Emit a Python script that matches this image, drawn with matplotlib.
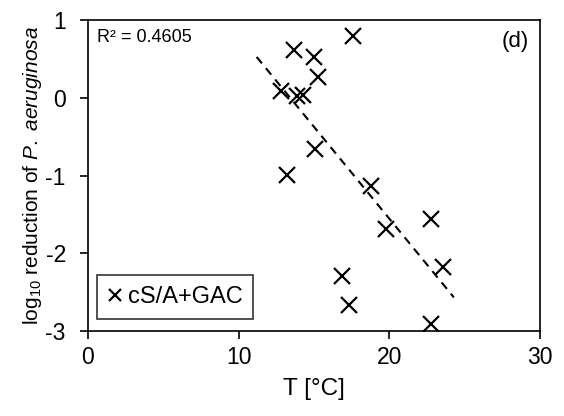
import numpy as np
import matplotlib
matplotlib.use("Agg")
import matplotlib.pyplot as plt

plt.rcParams['font.family'] = ['Liberation Sans', 'DejaVu Sans']
plt.rcParams['mathtext.fontset'] = 'custom'
plt.rcParams['mathtext.rm'] = 'Liberation Sans'
plt.rcParams['mathtext.it'] = 'Liberation Sans:italic'
plt.rcParams['axes.unicode_minus'] = False

temp = [17.6, 13.7, 15.0, 15.3, 12.8, 13.9, 14.3, 15.1, 13.2,
        18.8, 22.8, 19.8, 23.6, 16.9, 17.3, 22.8]
log_red = [0.80, 0.62, 0.53, 0.27, 0.085, 0.02, 0.04, -0.66, -0.99,
           -1.13, -1.56, -1.69, -2.18, -2.29, -2.67, -2.91]
xticks = [0, 10, 20, 30]
yticks = [-3, -2, -1, 0, 1]

fig = plt.figure(figsize=(5.64, 4.16), dpi=100)
ax = fig.add_axes([0.156, 0.204, 0.801, 0.748])

ax.plot(temp, log_red, 'x', color='black', markersize=12, markeredgewidth=1.6,
        linestyle='none', label='cS/A+GAC')

# linear trendline
k, b = np.polyfit(temp, log_red, 1)
xl = np.array([11.2, 24.3])
ax.plot(xl, k * xl + b, '--', color='black', linewidth=1.5, dashes=(4, 3))

ax.set_xlim(0, 30)
ax.set_ylim(-3, 1)
ax.set_xticks(xticks)
ax.set_yticks(yticks)
ax.tick_params(direction='out', length=6, width=1.2, labelsize=16.5,
               colors='black')
ax.tick_params(axis='x', pad=5)
ax.tick_params(axis='y', pad=10)
for s in ax.spines.values():
    s.set_linewidth(1.2)

ax.set_xlabel('T [°C]', fontsize=17.5, labelpad=6)
ax.set_ylabel(r'log$_{10}$ reduction of $\it{P.\ aeruginosa}$', fontsize=15,
              labelpad=1)

ax.text(0.02, 0.97, 'R² = 0.4605', transform=ax.transAxes, fontsize=13,
        ha='left', va='top')
ax.text(0.975, 0.965, '(d)', transform=ax.transAxes, fontsize=16,
        ha='right', va='top')

leg = ax.legend(loc='lower left', fontsize=17, frameon=True, fancybox=False,
                handlelength=0.6, handletextpad=0.25, borderpad=0.45,
                borderaxespad=0, markerscale=0.75,
                bbox_to_anchor=(0.02, 0.04))
leg.get_frame().set_edgecolor('black')
leg.get_frame().set_linewidth(1.2)

fig.savefig('out.png', dpi=100)
